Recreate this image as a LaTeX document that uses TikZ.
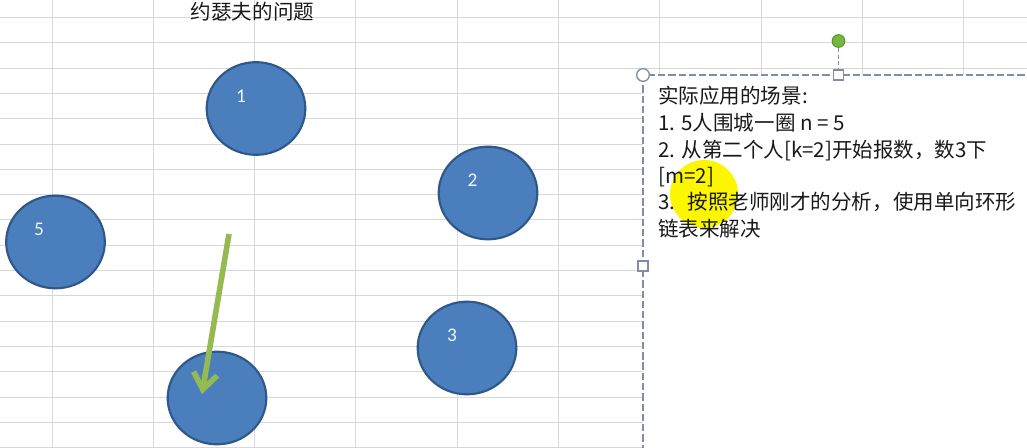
\documentclass[tikz,border=0pt]{standalone}
\usepackage{fontspec}
\newfontfamily\cjk{Noto Sans CJK SC}
\newfontfamily\calib{Carlito}
\usetikzlibrary{shapes.geometric,arrows.meta,calc}
\definecolor{gridc}{RGB}{216,216,216}
\definecolor{ballfill}{RGB}{74,126,189}
\definecolor{balldraw}{RGB}{46,88,138}
\definecolor{arrgreen}{RGB}{150,186,82}
\definecolor{boxdash}{RGB}{128,142,165}
\definecolor{hlyellow}{RGB}{252,246,0}
\definecolor{rotgreen}{RGB}{118,184,62}
\definecolor{rotdraw}{RGB}{90,150,45}
\definecolor{txt}{RGB}{25,25,25}
\tikzset{
  gridline/.style={draw=gridc, line width=0.75pt},
  ball/.style={ellipse, draw=balldraw, fill=ballfill, line width=1.6pt, minimum width=74pt, minimum height=69.5pt, inner sep=0pt},
  num/.style={font=\calib\fontsize{14.5pt}{14.5pt}\selectfont, text=white!92!ballfill, inner sep=0pt},
  cjktext/.style={font=\cjk\fontsize{15.4pt}{19.9pt}\selectfont, text=txt, inner sep=0pt},
  lineitem/.style={cjktext, anchor=base west},
  greenarrow/.style={draw=arrgreen, line width=4.2pt, -{Straight Barb[length=12pt,width=18pt]}},
  boxframe/.style={draw=boxdash, line width=1.5pt, dash pattern=on 5.5pt off 2.2pt, fill=white},
  handlecirc/.style={circle, draw=boxdash, fill=white, line width=1pt, minimum size=9.5pt, inner sep=0pt},
  handlesq/.style={rectangle, draw=boxdash, fill=white, line width=1pt, minimum size=7.5pt, inner sep=0pt},
  rothandle/.style={circle, draw=rotdraw, fill=rotgreen, line width=0.8pt, minimum size=9.5pt, inner sep=0pt},
  rotline/.style={draw=boxdash, line width=1.2pt, dash pattern=on 3pt off 2pt},
}
\begin{document}
\begin{tikzpicture}[x=0.75pt, y=-0.75pt]
\path[use as bounding box] (0,0) rectangle (1027,448);
\clip (0,0) rectangle (1027,448);
\fill[white] (0,0) rectangle (1027,448);
% spreadsheet grid (pixel aligned)
\foreach \k in {0,...,17} {
  \pgfmathsetmacro{\gy}{floor(17.5+25.3*\k)+0.5}
  \draw[gridline] (0,\gy) -- (1027,\gy);
}
\foreach \k in {0,...,9} {
  \pgfmathsetmacro{\gx}{floor(52+101.3*\k)+0.5}
  \draw[gridline] (\gx,0) -- (\gx,448);
}
% title
\node[cjktext] (title) at (252.5,12) {约瑟夫的问题};
% circles
\node[ball] (c1) at (256,108.5) {};
\node[ball] (c2) at (488,193) {};
\node[ball] (c3) at (467,348) {};
\node[ball] (c4) at (217,398) {};
\node[ball] (c5) at (55.5,242) {};
\node[num] (n1) at ([shift={(-15,-12.5)}]c1.center) {1};
\node[num] (n2) at ([shift={(-15.5,-12.5)}]c2.center) {2};
\node[num] (n3) at ([shift={(-15,-12.5)}]c3.center) {3};
\node[num] (n5) at ([shift={(-16.5,-12.5)}]c5.center) {5};
% green arrow
\coordinate (arrs) at (229,234);
\coordinate (arre) at (202,394);
\draw[greenarrow] (arrs) -- (arre);
% text box
\path[boxframe] (643,75) rectangle (1060,470);
\fill[hlyellow] (704,194) circle (34);
\node[lineitem] (t1) at (658,104) {实际应用的场景:};
\node[lineitem] (t2) at (658,131) {1. 5人围城一圈 n = 5};
\node[lineitem] (t3) at (658,157.5) {2. 从第二个人[k=2]开始报数，数3下};
\node[lineitem] (t4) at (658,184) {[m=2]};
\node[lineitem] (t5) at (658,210) {3.\hspace{0.6em}按照老师刚才的分析，使用单向环形};
\node[lineitem] (t6) at (658,236.5) {链表来解决};
% selection handles
\node[rothandle] (rot) at (838.5,41) {};
\node[handlesq] (hT) at (838.5,75) {};
\draw[rotline] (rot) -- (hT);
\node[handlecirc] (hTL) at (643,75) {};
\node[handlesq] (hL) at (643,266) {};
\end{tikzpicture}
\end{document}
